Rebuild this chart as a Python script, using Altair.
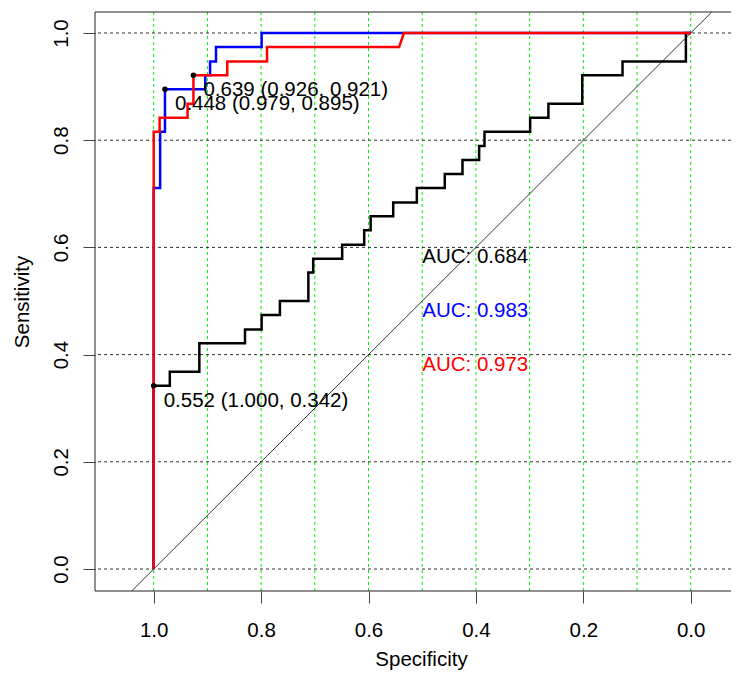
import altair as alt
import pandas as pd

# ---- data ----
black_spec = [1.0, 1.0, 0.970, 0.970, 0.915, 0.915, 0.830, 0.830, 0.799, 0.799, 0.765, 0.765,
              0.712, 0.712, 0.703, 0.703, 0.649, 0.649, 0.608, 0.608, 0.596, 0.596, 0.554, 0.554,
              0.510, 0.510, 0.458, 0.458, 0.425, 0.425, 0.394, 0.394, 0.384, 0.384, 0.299, 0.299,
              0.265, 0.265, 0.202, 0.202, 0.127, 0.127, 0.009, 0.009, 0.0]
black_sens = [0.0, 0.342, 0.342, 0.368, 0.368, 0.421, 0.421, 0.447, 0.447, 0.474, 0.474, 0.500,
              0.500, 0.553, 0.553, 0.579, 0.579, 0.605, 0.605, 0.632, 0.632, 0.658, 0.658, 0.684,
              0.684, 0.711, 0.711, 0.737, 0.737, 0.763, 0.763, 0.789, 0.789, 0.816, 0.816, 0.842,
              0.842, 0.868, 0.868, 0.921, 0.921, 0.947, 0.947, 1.0, 1.0]

blue_spec = [1.0, 1.0, 0.988, 0.988, 0.979, 0.979, 0.904, 0.904, 0.895, 0.895, 0.884, 0.884,
             0.799, 0.799, 0.0]
blue_sens = [0.0, 0.711, 0.711, 0.816, 0.816, 0.895, 0.895, 0.921, 0.921, 0.947, 0.947, 0.974,
             0.974, 1.0, 1.0]

red_spec = [1.0, 1.0, 0.989, 0.989, 0.937, 0.937, 0.926, 0.926, 0.863, 0.863, 0.789, 0.789,
            0.543, 0.534, 0.0]
red_sens = [0.0, 0.816, 0.816, 0.842, 0.842, 0.868, 0.868, 0.921, 0.921, 0.947, 0.947, 0.974,
            0.974, 1.0, 1.0]

thr_value = ["0.552", "0.448", "0.639"]
thr_spec = [1.000, 0.979, 0.926]
thr_sens = [0.342, 0.895, 0.921]

auc_text = ["AUC: 0.684", "AUC: 0.983", "AUC: 0.973"]
auc_color = ["black", "blue", "red"]
auc_x = [0.5, 0.5, 0.5]
auc_y = [0.6, 0.5, 0.4]

x_ticks = [1.0, 0.8, 0.6, 0.4, 0.2, 0.0]
y_ticks = [0.0, 0.2, 0.4, 0.6, 0.8, 1.0]
green_grid = [1.0, 0.9, 0.8, 0.7, 0.6, 0.5, 0.4, 0.3, 0.2, 0.1, 0.0]
diag_spec = [1.041, -0.039]
diag_sens = [-0.041, 1.039]

FONT = "Liberation Sans"
FS = 20.5

# ---- tables ----
def curve(name, color, xs, ys):
    return pd.DataFrame({"spec": xs, "sens": ys, "curve": name, "col": color,
                         "i": list(range(len(xs)))})

curves = pd.concat([
    curve("a", "black", black_spec, black_sens),
    curve("b", "blue", blue_spec, blue_sens),
    curve("c", "red", red_spec, red_sens),
], ignore_index=True)

thr = pd.DataFrame({
    "spec": thr_spec, "sens": thr_sens,
    "label": [f"{v} ({s:.3f}, {t:.3f})" for v, s, t in zip(thr_value, thr_spec, thr_sens)],
})
auc = pd.DataFrame({"spec": auc_x, "sens": auc_y, "label": auc_text, "col": auc_color})
diag = pd.DataFrame({"spec": diag_spec, "sens": diag_sens, "i": [0, 1]})

x_scale = alt.Scale(domain=[-0.075, 1.1093], reverse=True, nice=False, zero=False)
y_scale = alt.Scale(domain=[-0.041, 1.0392], nice=False, zero=False)

x_axis = alt.Axis(values=x_ticks, format=".1f", title="Specificity", grid=False, domain=False,
                  tickSize=12, tickColor="#444", tickWidth=1, labelFontSize=FS, labelFont=FONT,
                  labelColor="black", labelPadding=27, labelBaseline="middle", labelFlush=False,
                  labelOverlap=False, titleFont=FONT, titleFontSize=FS, titleFontWeight="normal",
                  titleColor="black", titleX=326, titleY=74, titleBaseline="alphabetic",
                  titleAlign="center")
y_axis = alt.Axis(values=y_ticks, format=".1f", title="Sensitivity", grid=False, domain=False,
                  tickSize=12, tickColor="#444", tickWidth=1, labelFontSize=FS, labelFont=FONT,
                  labelColor="black", labelAngle=270, labelAlign="center",
                  labelBaseline="alphabetic", labelPadding=16, labelFlush=False,
                  labelOverlap=False, titleFont=FONT, titleFontSize=FS, titleFontWeight="normal",
                  titleColor="black", titleAngle=270, titleX=-73, titleY=289.5,
                  titleBaseline="middle", titleAlign="center")

X = alt.X("spec:Q", scale=x_scale, axis=x_axis)
Y = alt.Y("sens:Q", scale=y_scale, axis=y_axis)

vgrid = alt.Chart(pd.DataFrame({"spec": green_grid})).mark_rule(
    color="#00EE00", strokeWidth=1, strokeDash=[3, 3]).encode(x=X)
hgrid = alt.Chart(pd.DataFrame({"sens": y_ticks})).mark_rule(
    color="#333333", strokeWidth=1, strokeDash=[3, 3]).encode(y=Y)
diag_line = alt.Chart(diag).mark_line(color="#333333", strokeWidth=1).encode(
    x=X, y=Y, order="i:Q")
lines = alt.Chart(curves).mark_line(strokeWidth=2.5).encode(
    x=X, y=Y, detail="curve:N", order="i:Q", color=alt.Color("col:N", scale=None))
pts = alt.Chart(thr).mark_circle(size=30, color="black", opacity=1).encode(x=X, y=Y)
thr_text = alt.Chart(thr).mark_text(align="left", baseline="middle", dx=10, dy=15,
                                    fontSize=FS, font=FONT, color="black").encode(
    x=X, y=Y, text="label:N")
auc_labels = alt.Chart(auc).mark_text(align="left", baseline="middle", dy=10,
                                      fontSize=FS, font=FONT).encode(
    x=X, y=Y, text="label:N", color=alt.Color("col:N", scale=None))
frame_l = alt.Chart().mark_rule(color="#222222", strokeWidth=1).encode(x=alt.value(0))
frame_t = alt.Chart().mark_rule(color="#222222", strokeWidth=1).encode(y=alt.value(0))
frame_b = alt.Chart().mark_rule(color="#222222", strokeWidth=1).encode(y=alt.value(579))

chart = alt.layer(
    vgrid, hgrid, diag_line, lines, pts, thr_text, auc_labels, frame_l, frame_t, frame_b
).properties(
    width=636, height=579,
    padding={"left": 87, "top": 4, "right": 0, "bottom": 79},
    autosize=alt.AutoSizeParams(type="none"),
    background="white",
).configure_view(stroke=None)

chart.save("out.html", embed_options={"renderer": "svg", "actions": False})
